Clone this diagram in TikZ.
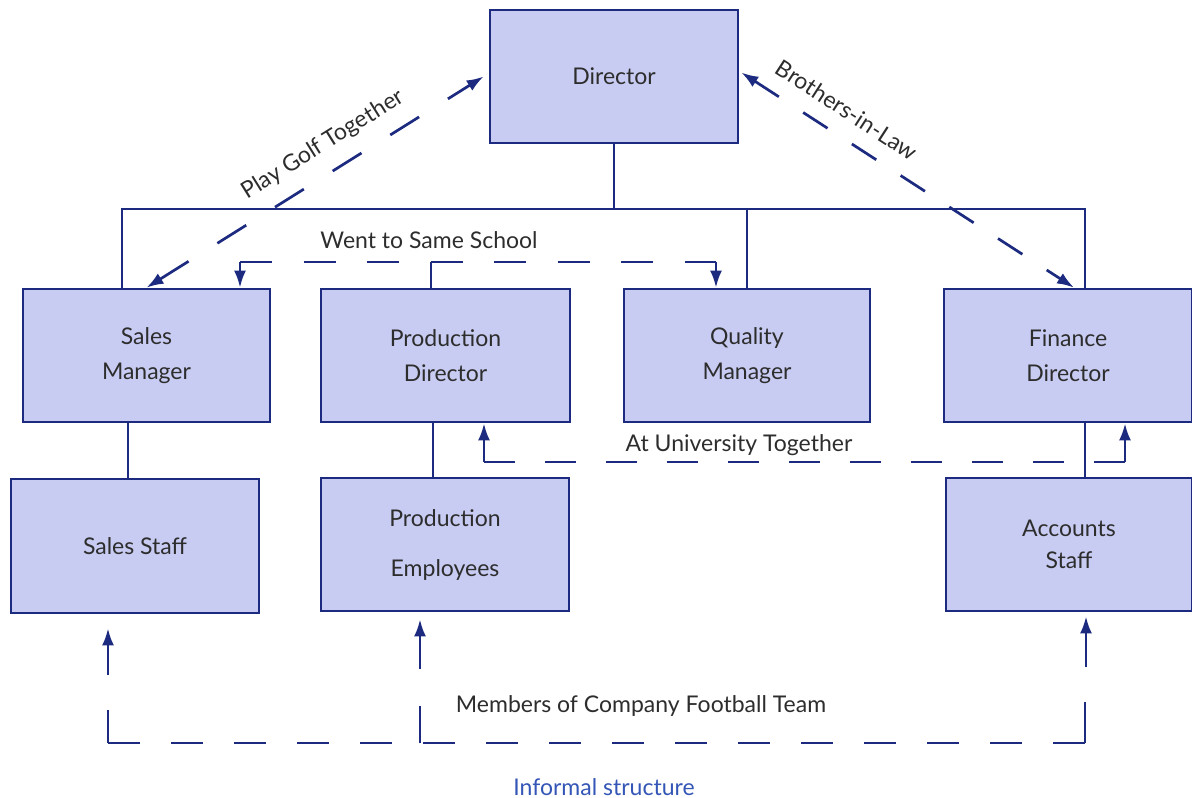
\documentclass[tikz,border=0pt]{standalone}
\usepackage{fontspec}
\setmainfont{Lato}
\usetikzlibrary{arrows.meta}
\definecolor{boxfill}{RGB}{200,204,242}
\definecolor{navy}{RGB}{28,42,128}
\definecolor{ink}{RGB}{45,45,45}
\definecolor{captionblue}{RGB}{52,86,182}

\begin{document}
\begin{tikzpicture}[x=1pt,y=-1pt,
  role/.style={draw=navy, fill=boxfill, line width=2.7pt,
    minimum width=248pt, minimum height=133pt, inner sep=0pt,
    align=center, text=ink, font=\fontsize{23}{35}\selectfont},
  link/.style={draw=navy, line width=2.7pt},
  rel/.style={draw=navy, line width=2.7pt},
  tip/.style={-{Latex[length=17pt,width=12pt]}},
  both/.style={{Latex[length=17pt,width=12pt]}-{Latex[length=17pt,width=12pt]}},
  lbl/.style={text=ink, inner sep=0pt, font=\fontsize{23}{27}\selectfont}
]
\useasboundingbox (0,0) rectangle (1192,798);

% positions in the organisation
\node[role] (dir) at (614,76.5) {Director};
\node[role, minimum width=247pt] (sm) at (146.5,355.5) {Sales\\Manager};
\node[role, minimum width=249pt] (pd) at (445.5,355.5) {Production\\Director};
\node[role, minimum width=246pt] (qm) at (747,355.5) {Quality\\Manager};
\node[role] (fd) at (1068,355.5) {Finance\\Director};
\node[role, minimum height=134pt] (ss) at (135,546) {Sales Staff};
\node[role] (pe) at (445,544.5) {Production\\[15pt]Employees};
\node[role, minimum width=246pt] (as) at (1069,544.5) {Accounts\\[-3pt]Staff};

% formal reporting lines
\coordinate (busL) at (122,209);
\coordinate (busR) at (1085,209);
\draw[link] (dir.south) -- (dir.south |- busL);
\draw[link] (busL |- sm.north) -- (busL) -- (busR) -- (busR |- fd.north);
\draw[link] (qm.north) -- (qm.north |- busL);
\draw[link] ([xshift=-18.5pt]sm.south) -- ([xshift=-18.5pt]sm.south |- ss.north);
\draw[link] ([xshift=-12.5pt]pd.south) -- ([xshift=-12.5pt]pd.south |- pe.north);
\draw[link] ([xshift=17pt]fd.south) -- ([xshift=17pt]fd.south |- as.north);

% informal links
% golf
\draw[rel, both, dash pattern=on 34pt off 34pt] (sm.north) -- ([xshift=-5pt]dir.west);
\node[lbl, rotate=32] (golf) at (323,145) {Play Golf Together};

% in-laws
\draw[rel, both, dash pattern=on 29pt off 29pt] ([xshift=2pt,yshift=4pt]dir.east) -- ([xshift=6pt]fd.north);
\node[lbl, rotate=-33] (inlaw) at (847,110) {Brothers-in-Law};

% school
\coordinate (schL) at (240,262);
\coordinate (schR) at (716,262);
\draw[link] ([xshift=-14.5pt]pd.north) -- ([xshift=-14.5pt]pd.north |- schL);
\draw[rel, dash pattern=on 32pt off 31.5pt] (schL) -- (schR);
\draw[link, tip] (schL) -- (schL |- sm.north);
\draw[link, tip] (schR) -- (schR |- qm.north);
\node[lbl] (school) at (429,240) {Went to Same School};

% university
\coordinate (uniL) at (484,462);
\coordinate (uniR) at (1125,462);
\draw[rel, dash pattern=on 31pt off 30pt] (uniL) -- (uniR);
\draw[link, tip] (uniL) -- (uniL |- pd.south);
\draw[link, tip] (uniR) -- (uniR |- fd.south);
\node[lbl] (uni) at (739,445) {At University Together};

% football team
\coordinate (fbA) at (108,675);
\coordinate (fbB) at (420,669);
\coordinate (fbC) at (1086,667);
\draw[link, tip, shorten >=14pt] (fbA) -- (fbA |- ss.south);
\draw[link, tip, shorten >=7pt] (fbB) -- (fbB |- pe.south);
\draw[link, tip, shorten >=4pt] (fbC) -- (fbC |- as.south);
\coordinate (fbL) at (108,743);
\coordinate (fbM) at (420,743);
\coordinate (fbR) at (1085,743);
\draw[rel, dash pattern=on 32pt off 31pt] (fbL) -- (fbR);
\draw[link] (fbL) -- ++(0,-33);
\draw[link] (fbM) -- ++(0,-37);
\draw[link] (fbR) -- ++(0,-41);
\node[lbl] (team) at (641,706) {Members of Company Football Team};

\node[lbl, text=captionblue] (caption) at (604,787) {Informal structure};
\end{tikzpicture}
\end{document}
